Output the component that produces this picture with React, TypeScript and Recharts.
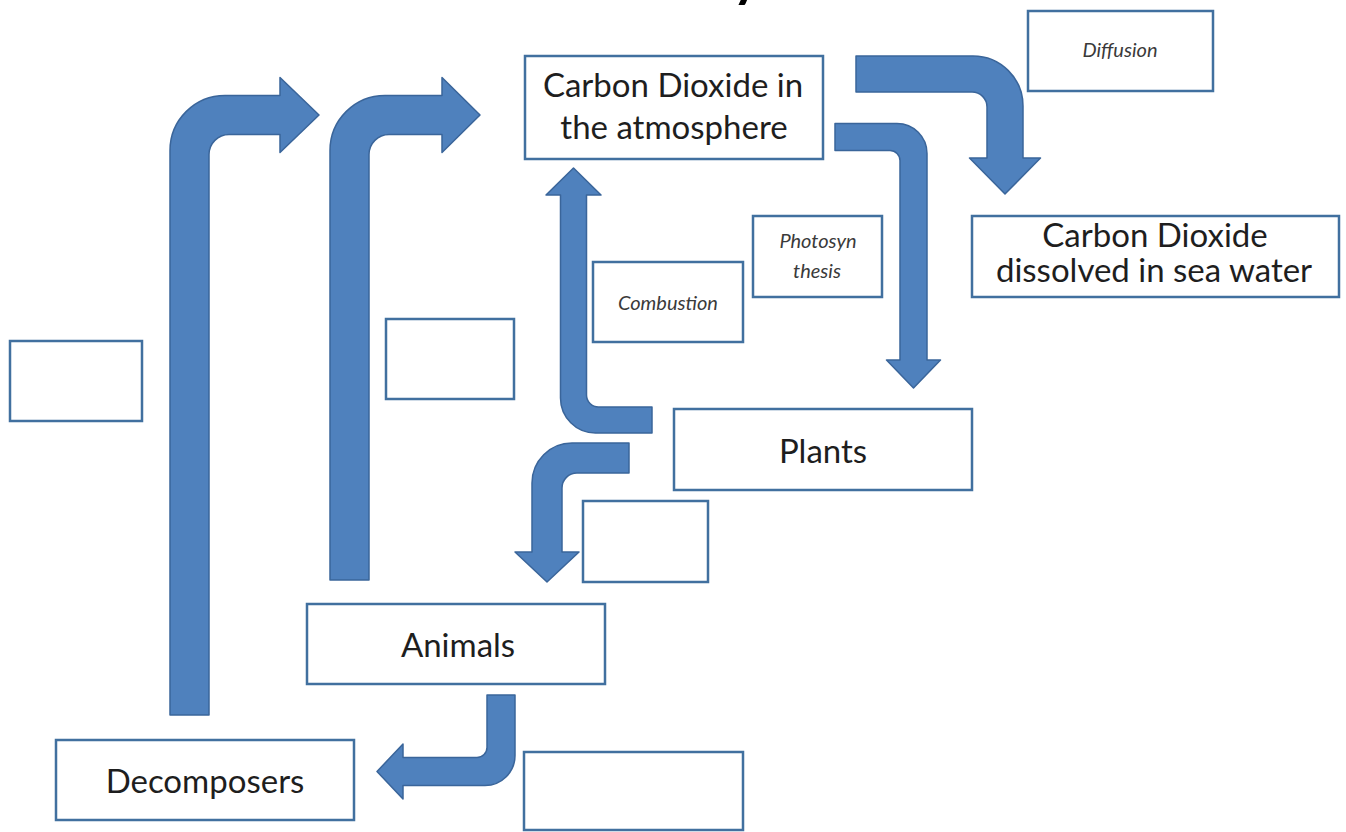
import { ScatterChart, Scatter, XAxis, YAxis, ReferenceArea } from "recharts";

const W = 1346;
const H = 832;

// text boxes, in page pixels (x1..x2, y1..y2)
const boxes = [
  { name: "atmosphere", x1: 525, x2: 823, y1: 56, y2: 159 },
  { name: "diffusion", x1: 1028, x2: 1213, y1: 11, y2: 91 },
  { name: "photosynthesis", x1: 753, x2: 882, y1: 216, y2: 297 },
  { name: "combustion", x1: 593, x2: 743, y1: 262, y2: 342 },
  { name: "sea", x1: 972, x2: 1339, y1: 216, y2: 297 },
  { name: "blank1", x1: 10, x2: 142, y1: 341, y2: 421 },
  { name: "blank2", x1: 386, x2: 514, y1: 319, y2: 399 },
  { name: "plants", x1: 674, x2: 972, y1: 409, y2: 490 },
  { name: "blank3", x1: 583, x2: 708, y1: 501, y2: 582 },
  { name: "animals", x1: 307, x2: 605, y1: 604, y2: 684 },
  { name: "decomposers", x1: 56, x2: 354, y1: 740, y2: 820 },
  { name: "blank4", x1: 524, x2: 743, y1: 752, y2: 830 },
];

// one entry per line of text: x = centre (or start for the title), y = baseline
const labels = [
  { text: "Carbon Cycle", x: 509, y: -4, kind: "title" },
  { text: "Carbon Dioxide in", x: 673, y: 97, kind: "main" },
  { text: "the atmosphere", x: 674, y: 139, kind: "main" },
  { text: "Carbon Dioxide", x: 1155, y: 247, kind: "main" },
  { text: "dissolved in sea water", x: 1154, y: 282, kind: "main" },
  { text: "Plants", x: 823, y: 463, kind: "main" },
  { text: "Animals", x: 458, y: 657, kind: "main" },
  { text: "Decomposers", x: 205, y: 793, kind: "main" },
  { text: "Diffusion", x: 1120, y: 57, kind: "note" },
  { text: "Photosyn", x: 818, y: 248, kind: "note" },
  { text: "thesis", x: 817, y: 278, kind: "note" },
  { text: "Combustion", x: 668, y: 310, kind: "note" },
];

// bent arrows: start of shaft, bend, tip
const arrows = [
  { name: "decomposersUp", path: [[189.5, 715], [189.5, 115], [319, 115]] },
  { name: "animalsUp", path: [[349.5, 580], [349.5, 115], [480, 115]] },
  { name: "diffusion", path: [[856, 74], [1005, 74], [1005, 194]] },
  { name: "photosynthesis", path: [[835, 137], [913.5, 137], [913.5, 388]] },
  { name: "combustion", path: [[652, 420], [573.5, 420], [573.5, 168]] },
  { name: "feeding", path: [[629, 458], [547, 458], [547, 582]] },
  { name: "death", path: [[501, 695], [501, 771.5], [377, 771.5]] },
];

const arrowSizes: Record<string, { shaft: number; head: number; headLen: number; outer: number; inner: number }> = {
  decomposersUp: { shaft: 39, head: 75, headLen: 39, outer: 55, inner: 20 },
  animalsUp: { shaft: 39, head: 75, headLen: 38, outer: 55, inner: 20 },
  diffusion: { shaft: 36, head: 71, headLen: 36, outer: 50, inner: 15 },
  photosynthesis: { shaft: 27, head: 54, headLen: 28, outer: 30, inner: 10 },
  combustion: { shaft: 26, head: 55, headLen: 27, outer: 35, inner: 12 },
  feeding: { shaft: 30, head: 64, headLen: 30, outer: 40, inner: 15 },
  death: { shaft: 28, head: 55, headLen: 26, outer: 30, inner: 10 },
};

const ARROW_FILL = "#4f81bd";
const ARROW_STROKE = "#3a659a";
const BOX_STROKE = "#41709f";

type P = { x: number; y: number };
const add = (...vs: P[]) => vs.reduce((a, v) => ({ x: a.x + v.x, y: a.y + v.y }), { x: 0, y: 0 });
const mul = (v: P, k: number) => ({ x: v.x * k, y: v.y * k });
const unit = (a: P, b: P) => {
  const dx = b.x - a.x;
  const dy = b.y - a.y;
  const l = Math.hypot(dx, dy) || 1;
  return { x: dx / l, y: dy / l };
};
const f = (p: P) => `${p.x.toFixed(1)},${p.y.toFixed(1)}`;

function arrowD(pts: P[], s: { shaft: number; head: number; headLen: number; outer: number; inner: number }) {
  const [S, C, T] = pts;
  const d1 = unit(S, C);
  const d2 = unit(C, T);
  const w = s.shaft / 2;
  const hw = s.head / 2;
  const k = 0.5523;
  const R = s.outer;
  const r = s.inner;
  const oc = add(C, mul(d2, -w), mul(d1, w));
  const ic = add(C, mul(d2, w), mul(d1, -w));
  const hb = add(T, mul(d2, -s.headLen));
  const p0 = add(S, mul(d2, -w));
  const o1 = add(oc, mul(d1, -R));
  const o2 = add(oc, mul(d2, R));
  const oc1 = add(o1, mul(d1, R * k));
  const oc2 = add(o2, mul(d2, -R * k));
  const h1 = add(hb, mul(d1, w));
  const h2 = add(hb, mul(d1, hw));
  const h3 = add(hb, mul(d1, -hw));
  const h4 = add(hb, mul(d1, -w));
  const i1 = add(ic, mul(d2, r));
  const i2 = add(ic, mul(d1, -r));
  const ic1 = add(i1, mul(d2, -r * k));
  const ic2 = add(i2, mul(d1, r * k));
  const p9 = add(S, mul(d2, w));
  return (
    `M${f(p0)} L${f(o1)} C${f(oc1)} ${f(oc2)} ${f(o2)} L${f(h1)} L${f(h2)} L${f(T)} ` +
    `L${f(h3)} L${f(h4)} L${f(i1)} C${f(ic1)} ${f(ic2)} ${f(i2)} L${f(p9)} Z`
  );
}

const noDot = () => <g />;

function LabelShape(props: any) {
  const { cx, cy, payload } = props;
  if (cx == null || cy == null) return <g />;
  if (payload.kind === "title") {
    return (
      <text x={cx} y={cy} fontFamily="Lato, sans-serif" fontWeight={700} fontSize={54} fill="#000">
        {payload.text}
      </text>
    );
  }
  const note = payload.kind === "note";
  return (
    <text
      x={cx}
      y={cy}
      textAnchor="middle"
      fontFamily="Lato, sans-serif"
      fontStyle={note ? "italic" : "normal"}
      fontSize={note ? 20 : 33}
      fill={note ? "#3a3a3a" : "#1e1e1e"}
    >
      {payload.text}
    </text>
  );
}

export default function App() {
  return (
    <div style={{ position: "absolute", left: 0, top: 0, width: W, height: H, background: "#fff" }}>
      <ScatterChart width={W} height={H} margin={{ top: 0, right: 0, bottom: 0, left: 0 }}>
        <XAxis type="number" dataKey="x" domain={[0, W]} allowDataOverflow hide />
        <YAxis type="number" dataKey="y" domain={[0, H]} allowDataOverflow reversed hide />
        {boxes.map((b) => (
          <ReferenceArea
            key={b.name}
            x1={b.x1}
            x2={b.x2}
            y1={b.y1}
            y2={b.y2}
            fill="#fff"
            fillOpacity={1}
            stroke={BOX_STROKE}
            strokeWidth={2.5}
            ifOverflow="visible"
          />
        ))}
        {arrows.map((a) => (
          <Scatter
            key={a.name}
            data={a.path.map(([x, y]) => ({ x, y }))}
            shape={noDot}
            line={(lp: any) => (
              <path
                d={arrowD(lp.points, arrowSizes[a.name])}
                fill={ARROW_FILL}
                stroke={ARROW_STROKE}
                strokeWidth={1.5}
                strokeLinejoin="round"
              />
            )}
            isAnimationActive={false}
          />
        ))}
        <Scatter data={labels} shape={LabelShape} isAnimationActive={false} />
      </ScatterChart>
    </div>
  );
}
